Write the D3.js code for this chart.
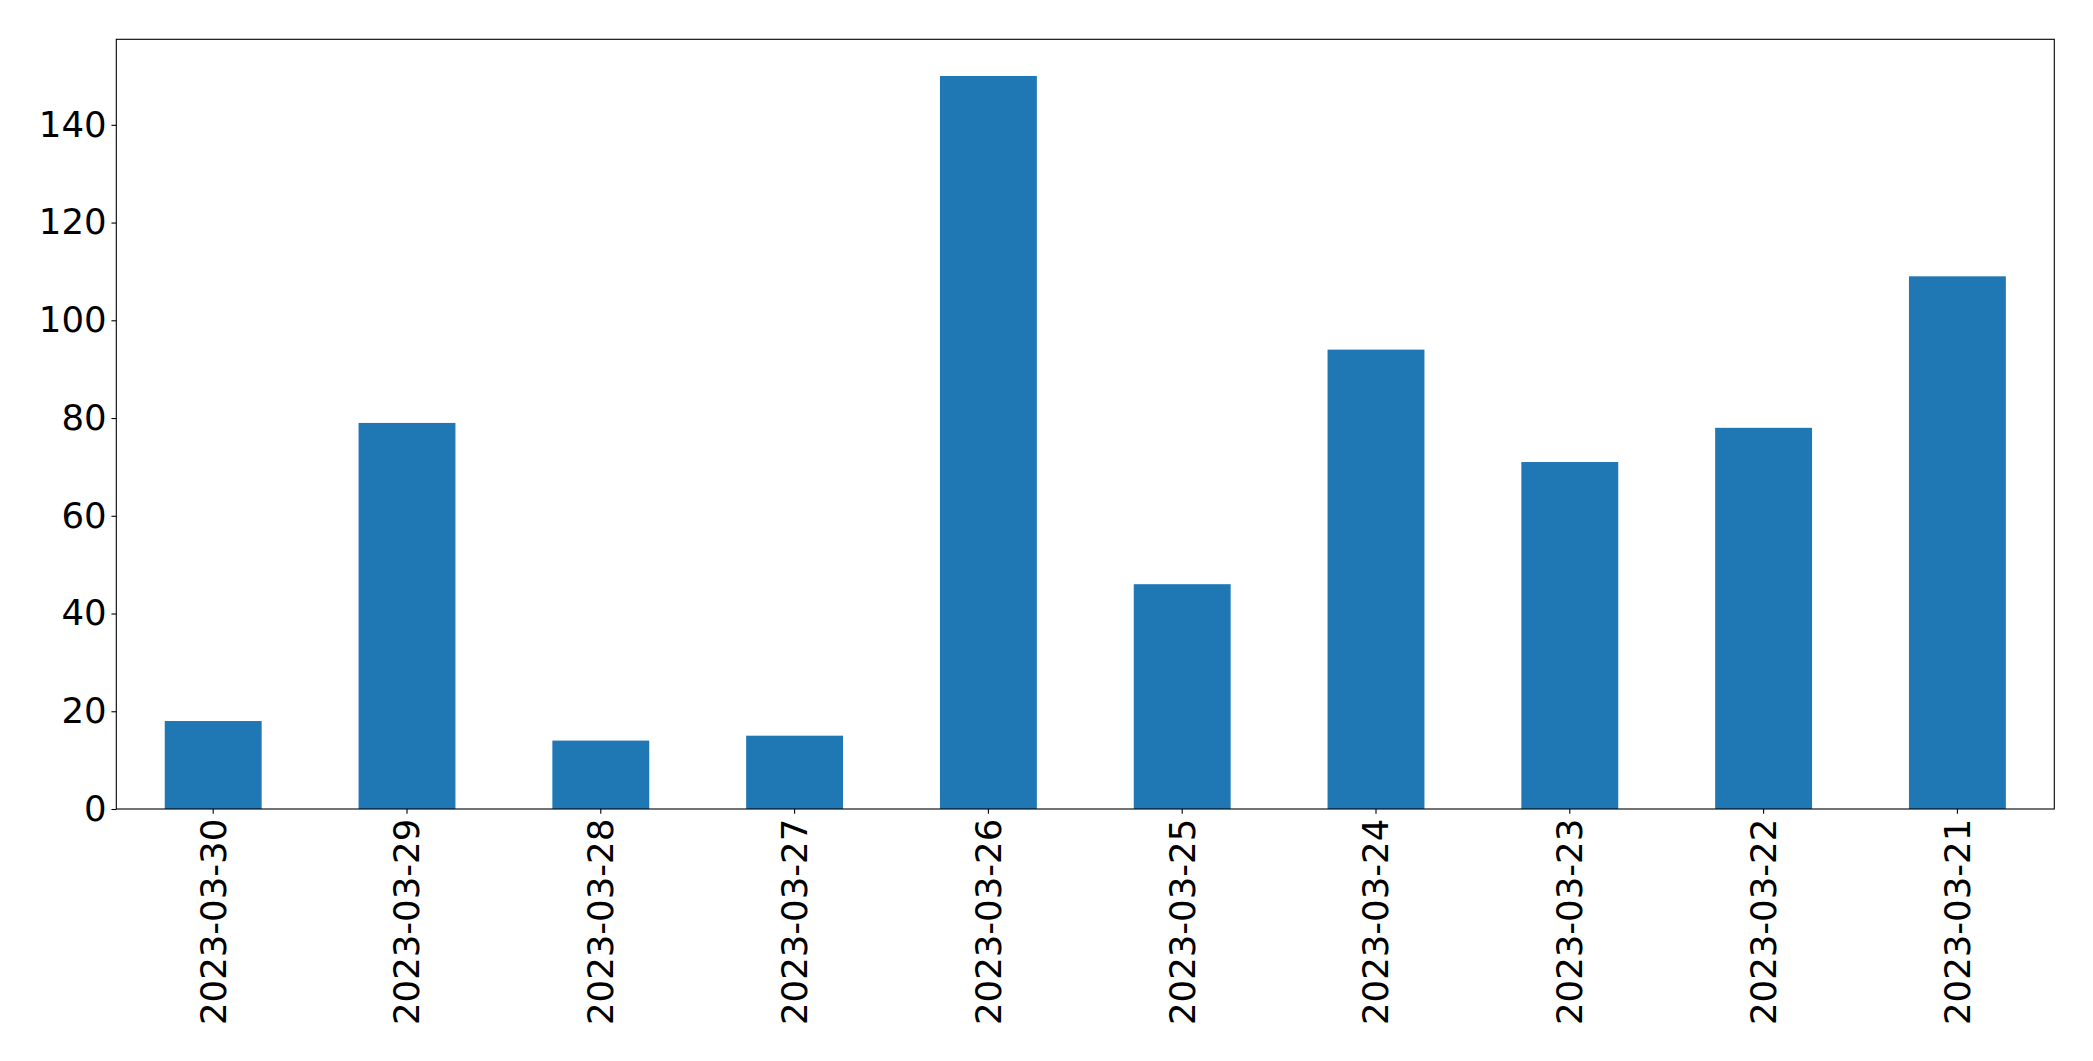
<!DOCTYPE html>
<html>
<head>
<meta charset="utf-8">
<script src="https://cdn.jsdelivr.net/npm/d3@7"></script>
<style>
  html, body { margin: 0; padding: 0; background: #fff; }
  svg { display: block; }
  text { font-family: "DejaVu Sans", sans-serif; fill: #000; }
</style>
</head>
<body>
<svg id="chart" width="2093" height="1061"></svg>
<script>
const categories = ["2023-03-30", "2023-03-29", "2023-03-28", "2023-03-27", "2023-03-26",
                    "2023-03-25", "2023-03-24", "2023-03-23", "2023-03-22", "2023-03-21"];
const values = [18, 79, 14, 15, 150, 46, 94, 71, 78, 109];
const yTicks = [0, 20, 40, 60, 80, 100, 120, 140];

const W = 2093, H = 1061;
const margin = { left: 116.3, top: 39.3, right: 38.7, bottom: 252 };
const plotW = W - margin.left - margin.right;
const plotH = H - margin.top - margin.bottom;
const fontSize = 35.5;
const tickLen = 4.86, tickPad = 4.86;

const svg = d3.select("#chart");
const g = svg.append("g").attr("transform", `translate(${margin.left},${margin.top})`);

const x = d3.scaleBand().domain(categories).range([0, plotW]).paddingInner(0.5).paddingOuter(0.25);
const y = d3.scaleLinear().domain([0, d3.max(values) * 1.05]).range([plotH, 0]);

// bars
g.selectAll("rect.bar").data(values).enter().append("rect")
  .attr("class", "bar")
  .attr("x", (d, i) => x(categories[i]))
  .attr("width", x.bandwidth())
  .attr("y", d => y(d))
  .attr("height", d => y(0) - y(d))
  .attr("fill", "#1f77b4");

// y axis
const yAxis = g.append("g").call(
  d3.axisLeft(y).tickValues(yTicks).tickSize(tickLen).tickPadding(tickPad).tickFormat(d3.format("d"))
);
yAxis.select(".domain").remove();
yAxis.selectAll(".tick line").attr("stroke", "#000").attr("stroke-width", 1.1);
yAxis.selectAll(".tick text").attr("font-size", fontSize).attr("font-family", "DejaVu Sans");

// x axis
const xAxis = g.append("g").attr("transform", `translate(0,${plotH})`).call(
  d3.axisBottom(x).tickSize(tickLen).tickPadding(tickPad)
);
xAxis.select(".domain").remove();
xAxis.selectAll(".tick line").attr("stroke", "#000").attr("stroke-width", 1.1);
xAxis.selectAll(".tick text")
  .attr("font-size", fontSize)
  .attr("font-family", "DejaVu Sans")
  .attr("transform", "rotate(-90)")
  .attr("text-anchor", "end")
  .attr("x", -(tickLen + tickPad))
  .attr("y", 0)
  .attr("dy", "0.35em");

// frame
g.append("rect")
  .attr("x", 0).attr("y", 0)
  .attr("width", plotW).attr("height", plotH)
  .attr("fill", "none")
  .attr("stroke", "#000")
  .attr("stroke-width", 1.1);
</script>
</body>
</html>
